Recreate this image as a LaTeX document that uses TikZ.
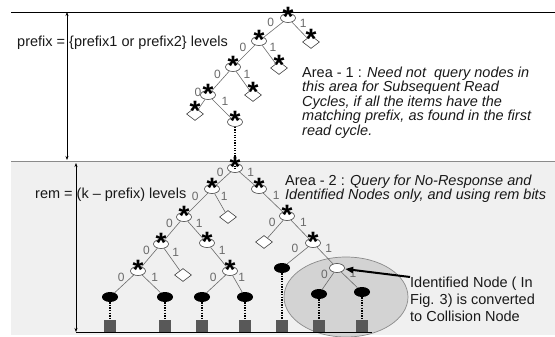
\documentclass[tikz,border=0pt]{standalone}
\usepackage{fontspec}
\setmainfont{Liberation Sans}
\usetikzlibrary{shapes.geometric,arrows.meta}
\definecolor{areagray}{HTML}{F0F0F0}
\definecolor{zonegray}{HTML}{D3D3D3}
\definecolor{zoneedge}{HTML}{8A8A8A}
\definecolor{tagfill}{HTML}{585858}
\definecolor{bitgray}{HTML}{6A6A6A}
% asterisk in a tight box: its baseline sits at the bottom of the glyph
\newcommand{\treestar}{\makebox[0.26em][c]{\raisebox{-0.40em}[0.30em][0pt]{*}}}
\begin{document}
\begin{tikzpicture}[x=1pt,y=-1pt,
  label distance=-2pt,
  treeedge/.style={draw=bitgray, line width=0.6pt},
  bitlbl/.style={font=\fontsize{12}{12}\selectfont, text=bitgray, inner sep=0.6pt, pos=0.4},
  zero/.style={bitlbl, above left, xshift=-0.5pt},
  one/.style={bitlbl, above right, xshift=1pt},
  wnode/.style={ellipse, draw=black!75, fill=white, line width=0.6pt,
    minimum width=15pt, minimum height=9pt, inner sep=0pt},
  bnode/.style={ellipse, fill=black, minimum width=16pt, minimum height=10pt, inner sep=0pt},
  dnode/.style={diamond, draw=black!75, fill=white, line width=0.6pt,
    minimum width=17pt, minimum height=13pt, inner sep=0pt},
  tag/.style={rectangle, fill=tagfill, minimum size=12.5pt, inner sep=0pt},
  starred/.style={label={[font=\fontsize{28}{28}\selectfont\bfseries, inner sep=0pt]90:\treestar}},
  dots/.style={line width=1.6pt, dash pattern=on 1.3pt off 1.3pt},
  dim/.style={{Stealth[length=4pt,width=3pt]}-{Stealth[length=4pt,width=3pt]}, line width=0.6pt},
  idarrow/.style={-{Triangle[length=8pt,width=6pt]}, line width=2pt, shorten >=0.5pt},
  txt/.style={font=\fontsize{14.5}{13.5}\selectfont, inner sep=0pt, align=left, text=black!90},
]
\useasboundingbox (0,0) rectangle (555,337);

% lower band and its rules
\fill[areagray] (11,161) rectangle (555,335);
\draw[zoneedge, line width=1pt] (11,161) -- (555,161);
\draw[black, line width=0.7pt] (11,12) -- (555,12);

% highlighted collision zone
\node[ellipse, fill=zonegray, draw=zoneedge, line width=0.7pt,
  minimum width=124pt, minimum height=80pt, inner sep=0pt] (collzone) at (346,297) {};

% level extents
\coordinate (pfxtop) at (67,12);
\coordinate (pfxbot) at (67,160);
\coordinate (remtop) at (76,163);
\coordinate (rembot) at (76,332);
\coordinate (baseend) at (372,332);
\draw[dim] (pfxtop) -- (pfxbot);
\draw[dim] (remtop) -- (rembot);
\draw[black, line width=0.6pt] (rembot) -- (baseend);

% prefix part of the tree
\node[wnode, starred] (u0)  at (288,18) {};
\node[wnode, starred] (u1)  at (259,41) {};
\node[dnode, starred] (u1r) at (311,42) {};
\node[wnode, starred] (u2)  at (233,67) {};
\node[dnode, starred] (u2r) at (279,68) {};
\node[wnode, starred] (u3)  at (208,95) {};
\node[dnode, starred] (u3r) at (253,95) {};
\node[dnode, starred] (u4l) at (195,114) {};
\node[wnode, starred] (u4r) at (235,122) {};

\path[treeedge] (u0) -- node[zero] {0} (u1);
\path[treeedge] (u0) -- node[one] {1} (u1r);
\path[treeedge] (u1) -- node[zero] {0} (u2);
\path[treeedge] (u1) -- node[one] {1} (u2r);
\path[treeedge] (u2) -- node[zero] {0} (u3);
\path[treeedge] (u2) -- node[one] {1} (u3r);
\path[treeedge] (u3) -- node[zero, pos=0.2, xshift=-1pt, yshift=3.5pt] {0} (u4l);
\path[treeedge] (u3) -- node[one] {1} (u4r);

% remaining part of the tree
\node[wnode, starred] (r)    at (235,168) {};
\node[wnode, starred] (a)    at (212,189) {};
\node[wnode, starred] (b)    at (259,189) {};
\node[wnode, starred] (a0)   at (184,217) {};
\node[dnode]          (a1)   at (228,217) {};
\node[wnode, starred] (b1)   at (287,216) {};
\node[wnode, starred] (a00)  at (161,244) {};
\node[wnode, starred] (a01)  at (207,243) {};
\node[dnode]          (b10)  at (264,242) {};
\node[wnode, starred] (b11)  at (313,243) {};
\node[wnode, starred] (a000) at (138,271) {};
\node[dnode]          (a001) at (183,275) {};
\node[wnode, starred] (a011) at (230,271) {};
\node[bnode]          (b110) at (282,268) {};
\node[wnode]          (b111) at (337,268) {};
\node[bnode] (a0000) at (110,297) {};
\node[bnode] (a0001) at (165,297) {};
\node[bnode] (a0110) at (202,297) {};
\node[bnode] (a0111) at (245,297) {};
\node[bnode] (b1110) at (319,294) {};
\node[bnode] (b1111) at (362,292) {};

\draw[dots] (u4r) -- ([yshift=-6pt]r.north);
\path[treeedge] (r) -- node[zero] {0} (a);
\path[treeedge] (r) -- node[one] {1} (b);
\path[treeedge] (a) -- node[zero] {0} (a0);
\path[treeedge] (a) -- node[one] {1} (a1);
\path[treeedge] (b) -- node[one] {1} (b1);
\path[treeedge] (a0) -- node[zero] {0} (a00);
\path[treeedge] (a0) -- node[one] {1} (a01);
\path[treeedge] (b1) -- node[zero] {0} (b10);
\path[treeedge] (b1) -- node[one] {1} (b11);
\path[treeedge] (a00) -- node[zero] {0} (a000);
\path[treeedge] (a00) -- node[one] {1} (a001);
\path[treeedge] (a01) -- node[one] {1} (a011);
\path[treeedge] (b11) -- node[zero] {0} (b110);
\path[treeedge] (b11) -- node[one] {1} (b111);
\path[treeedge] (a000) -- node[zero] {0} (a0000);
\path[treeedge] (a000) -- node[one] {1} (a0001);
\path[treeedge] (a011) -- node[zero] {0} (a0110);
\path[treeedge] (a011) -- node[one] {1} (a0111);
\path[treeedge] (b111) -- node[zero] {0} (b1110);
\path[treeedge] (b111) -- node[one] {1} (b1111);

% tags under the leaves
\foreach \leaf/\tg in {a0000/t1, a0001/t2, a0110/t3, a0111/t4, b110/t5, b1110/t6, b1111/t7} {
  \node[tag] (\tg) at (\leaf |- 0,326) {};
  \draw[dots] (\leaf) -- (\tg);
}

% annotations
\node[txt, anchor=west] (prefixlbl) at (17,43) {prefix = \{prefix1 or prefix2\} levels};
\node[txt, anchor=west] (remlbl) at (35,195) {rem = (k – prefix) levels};
\node[txt, anchor=north west] (area1) at (302,66.5)
  {Area - 1 : \textit{Need not~ query nodes in}\\
   \textit{this area for Subsequent Read}\\
   \textit{Cycles, if all the items have the}\\
   \textit{matching prefix, as found in the first}\\
   \textit{read cycle.}};
\node[txt, anchor=north west] (area2) at (285,174.5)
  {Area - 2 : \textit{Query for No-Response and}\\
   \textit{Identified Nodes only, and using rem bits}};
\node[txt, anchor=north west, font=\fontsize{14.5}{17}\selectfont] (idnote) at (410,276.5)
  {Identified Node ( In\\ Fig. 3) is converted\\ to Collision Node};
\coordinate (idtail) at (410,277);
\draw[idarrow] (idtail) -- (b111);
\end{tikzpicture}
\end{document}
